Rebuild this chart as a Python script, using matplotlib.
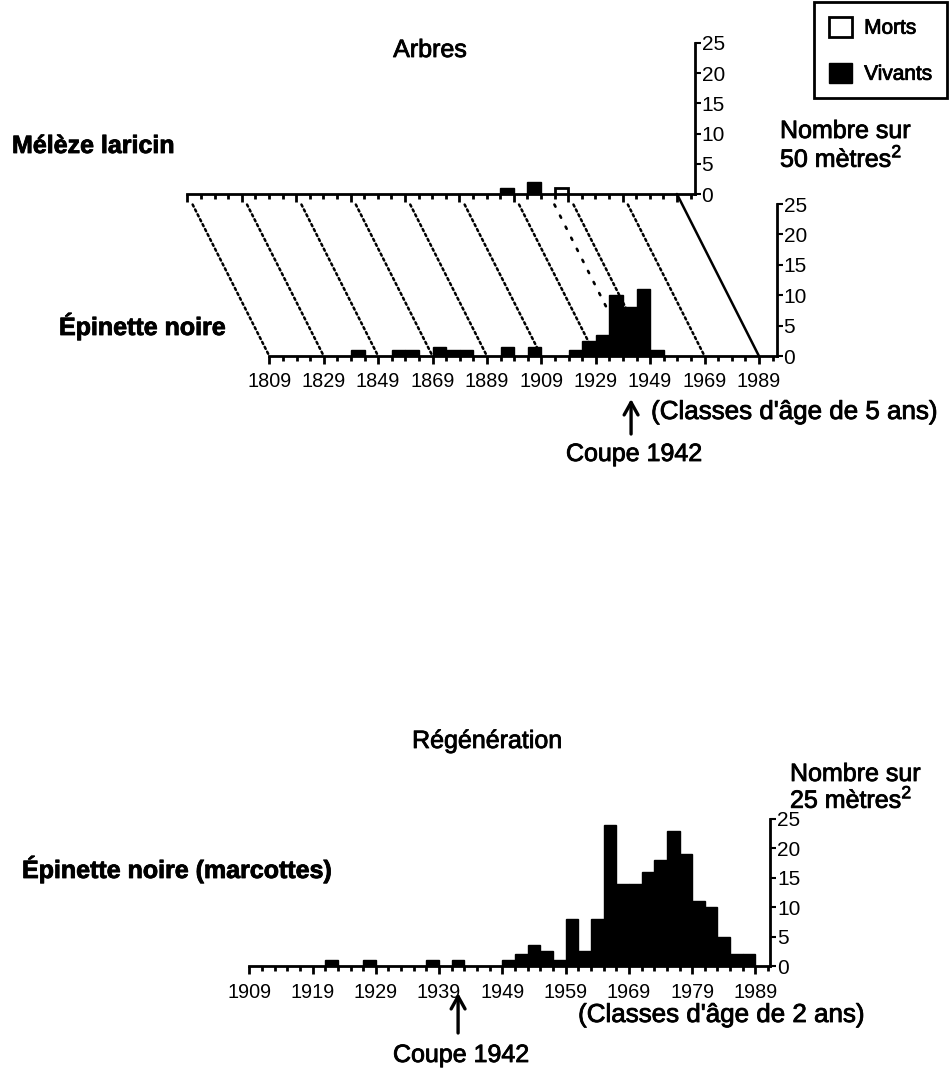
import numpy as np
import matplotlib
matplotlib.use("Agg")
import matplotlib.pyplot as plt
import matplotlib.patheffects as pe
from matplotlib.text import Text
from matplotlib.patches import ConnectionPatch, Patch
from matplotlib.transforms import ScaledTranslation

plt.rcParams["font.family"] = ["Liberation Sans", "DejaVu Sans"]
plt.rcParams["mathtext.fontset"] = "custom"
plt.rcParams["mathtext.rm"] = "Liberation Sans"

# ---- data -------------------------------------------------------------
# Trees (5-year age classes, start year of each class), count per 50 m2
meleze_classes = [1924, 1934, 1944]
meleze_vivants = [1, 2, 0]
meleze_morts = [0, 0, 1]

epinette_classes = [1839, 1854, 1859, 1869, 1874, 1879, 1894, 1904,
                    1919, 1924, 1929, 1934, 1939, 1944, 1949]
epinette_vivants = [1, 1, 1, 1.5, 1, 1, 1.5, 1.5,
                    1, 2.5, 3.5, 10, 8, 11, 1]

# Regeneration (2-year age classes), count per 25 m2
regen_classes = [1921, 1927, 1937, 1941, 1949, 1951, 1953, 1955, 1957,
                 1959, 1961, 1963, 1965, 1967, 1969, 1971, 1973, 1975,
                 1977, 1979, 1981, 1983, 1985, 1987]
regen_vivants = [1, 1, 1, 1, 1, 2, 3.5, 2.5, 1,
                 8, 2.5, 8, 24, 14, 14, 16, 18, 23,
                 19, 11, 10, 5, 2, 2]

tree_major_ticks = list(range(1809, 1990, 20))
tree_minor_ticks = list(range(1809, 1995, 5))
regen_major_ticks = list(range(1909, 1990, 10))
regen_minor_ticks = list(range(1909, 1992, 2))
count_ticks = [0, 5, 10, 15, 20, 25]
CUT_YEAR = 1942

# ---- figure -----------------------------------------------------------
W, H = 950, 1070
fig = plt.figure(figsize=(W / 100, H / 100), dpi=100)


def px_axes(left, right, base, top):
    return fig.add_axes([left / W, 1 - base / H, (right - left) / W, (base - top) / H])


def style(ax, xlim, major, minor, labels=True, pad=5):
    ax.set_xlim(*xlim)
    ax.set_ylim(0, 25)
    ax.patch.set_visible(False)
    for s in ("top", "left"):
        ax.spines[s].set_visible(False)
    ax.spines["bottom"].set_linewidth(2)
    ax.spines["right"].set_linewidth(2)
    ax.yaxis.tick_right()
    ax.set_yticks(count_ticks)
    ax.tick_params(axis="y", direction="out", length=4, width=1.5, pad=1,
                   labelsize=15)
    ax.set_xticks(major)
    ax.set_xticks(minor, minor=True)
    ax.tick_params(axis="x", which="major", direction="out", length=6,
                   width=2, pad=pad, labelsize=14.3)
    ax.tick_params(axis="x", which="minor", direction="out", length=3.5,
                   width=2)
    if not labels:
        ax.set_xticklabels([])


def below(ax, dx_px, dy_px):
    return ax.transData + ScaledTranslation(dx_px / 100, -dy_px / 100,
                                            fig.dpi_scale_trans)


ax_top = px_axes(187.3, 694.6, 194, 43)
ax_mid = px_axes(269.3, 776.6, 356, 204)
ax_reg = px_axes(249.3, 770.0, 966, 819)
ax_mid.set_zorder(3)

style(ax_top, (1809, 1995.5), tree_major_ticks, tree_minor_ticks, labels=False)
style(ax_mid, (1809, 1995.5), tree_major_ticks, tree_minor_ticks, pad=5.5)
style(ax_reg, (1909, 1991.3), regen_major_ticks, regen_minor_ticks, pad=6.5)

# bars
ax_top.bar(meleze_classes, meleze_vivants, width=5, align="edge",
           color="black", edgecolor="black", lw=1, zorder=3)
ax_top.bar(meleze_classes, meleze_morts, width=5, align="edge",
           facecolor="white", edgecolor="black", lw=2, zorder=3)
ax_mid.bar(epinette_classes, epinette_vivants, width=5, align="edge",
           color="black", edgecolor="black", lw=1, zorder=3)
ax_reg.bar(regen_classes, regen_vivants, width=2, align="edge",
           color="black", edgecolor="black", lw=1, zorder=3)

# oblique guides linking the two tree axes
for yr in tree_major_ticks[:-1]:
    con = ConnectionPatch(xyA=(yr, 0), coordsA=ax_top.transData,
                          xyB=(yr, 0), coordsB=ax_mid.transData,
                          color="black", lw=1.8, linestyle=(0, (0.9, 1.3)),
                          shrinkA=8.5, shrinkB=0, zorder=1)
    fig.add_artist(con)
con = ConnectionPatch(xyA=(CUT_YEAR, 0), coordsA=ax_top.transData,
                      xyB=(CUT_YEAR, 0), coordsB=ax_mid.transData,
                      color="black", lw=1.9, linestyle=(0, (0.9, 3.8)),
                      shrinkA=8.5, shrinkB=0, zorder=1)
fig.add_artist(con)
con = ConnectionPatch(xyA=(tree_major_ticks[-1], 0), coordsA=ax_top.transData,
                      xyB=(tree_major_ticks[-1], 0), coordsB=ax_mid.transData,
                      color="black", lw=1.8, shrinkA=0, shrinkB=0, zorder=1)
fig.add_artist(con)

# cut arrows and notes
arrow = dict(arrowstyle="->,head_length=0.9,head_width=0.5", lw=2.4,
             color="black", shrinkA=0, shrinkB=0)
ax_mid.annotate("", xy=(CUT_YEAR, 0), xycoords=below(ax_mid, 0, 43),
                xytext=(CUT_YEAR, 0), textcoords=below(ax_mid, 0, 78),
                arrowprops=arrow, annotation_clip=False)
ax_mid.text(CUT_YEAR, 0, "Coupe 1942", transform=below(ax_mid, 3, 105),
            ha="center", va="baseline", fontsize=18, clip_on=False)
ax_mid.text(CUT_YEAR, 0, "(Classes d'âge de 5 ans)",
            transform=below(ax_mid, 20, 63), ha="left", va="baseline",
            fontsize=18.7, clip_on=False)

ax_reg.annotate("", xy=(CUT_YEAR, 0), xycoords=below(ax_reg, 0, 27),
                xytext=(CUT_YEAR, 0), textcoords=below(ax_reg, 0, 67),
                arrowprops=arrow, annotation_clip=False)
ax_reg.text(CUT_YEAR, 0, "Coupe 1942", transform=below(ax_reg, 3, 96),
            ha="center", va="baseline", fontsize=18, clip_on=False)
ax_reg.text(CUT_YEAR, 0, "(Classes d'âge de 2 ans)",
            transform=below(ax_reg, 120, 56), ha="left", va="baseline",
            fontsize=18.7, clip_on=False)

# titles and axis notes
fig.text(430 / W, 1 - 57 / H, "Arbres", ha="center", va="baseline", fontsize=18)
fig.text(12 / W, 1 - 153 / H, "Mélèze laricin", ha="left", va="baseline",
         fontsize=18, fontweight="bold")
fig.text(59 / W, 1 - 335 / H, "Épinette noire", ha="left", va="baseline",
         fontsize=18, fontweight="bold")
fig.text(780 / W, 1 - 138 / H, "Nombre sur", ha="left", va="baseline", fontsize=18)
fig.text(780 / W, 1 - 167 / H, "50 mètres$^{2}$", ha="left", va="baseline",
         fontsize=18)

fig.text(487 / W, 1 - 748 / H, "Régénération", ha="center", va="baseline",
         fontsize=18)
fig.text(790 / W, 1 - 781 / H, "Nombre sur", ha="left", va="baseline", fontsize=18)
fig.text(790 / W, 1 - 808 / H, "25 mètres$^{2}$", ha="left", va="baseline",
         fontsize=18)
fig.text(22 / W, 1 - 878 / H, "Épinette noire (marcottes)", ha="left",
         va="baseline", fontsize=18, fontweight="bold")

# legend
handles = [Patch(facecolor="white", edgecolor="black", lw=2, label="Morts"),
           Patch(facecolor="black", edgecolor="black", lw=1, label="Vivants")]
leg = fig.legend(handles=handles, loc="upper right",
                 bbox_to_anchor=(947 / W, 1 - 2 / H), frameon=True,
                 fancybox=False, edgecolor="black", framealpha=1,
                 fontsize=15, handlelength=1.1, handleheight=1.1,
                 labelspacing=1.2, borderpad=0.7, handletextpad=0.6,
                 borderaxespad=0)
leg.get_frame().set_linewidth(2)

# heavier, print-like lettering
for t in fig.findobj(Text):
    if t.get_text():
        t.set_path_effects([pe.withStroke(linewidth=0.6, foreground="black")])

fig.savefig("out.png", dpi=100)
